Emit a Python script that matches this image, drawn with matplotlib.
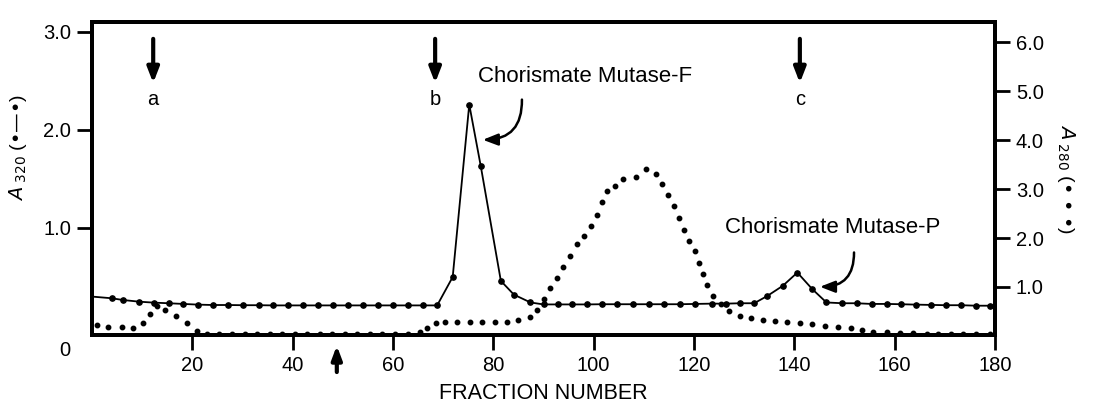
import matplotlib.pyplot as plt
import numpy as np

plt.rcParams["font.family"] = ["Liberation Sans", "DejaVu Sans"]

# A320 (solid line with dots), left axis
a320_frac = [0, 3.9, 6.2, 9.4, 12.4, 15.3, 18.2, 21.1, 24.1, 27.1, 30.1, 33.3, 36.1,
             39.1, 42.1, 45.1, 48.0, 51.0, 54.0, 57.0, 60.0, 63.0, 66.0, 68.8,
             71.9, 75.2, 77.5, 81.5, 84.1, 87.4, 90.0, 92.8, 95.6, 98.7, 101.6,
             104.6, 107.8, 111.0, 114.0, 117.2, 120.2, 123.5, 126.4, 129.2, 132.0,
             134.6, 137.7, 140.6, 143.6, 146.4, 149.6, 152.4, 155.4, 158.4, 161.3,
             164.2, 167.2, 170.2, 173.2, 176.3, 179.0]
a320_vals = [0.30, 0.283, 0.265, 0.248, 0.238, 0.232, 0.225, 0.218, 0.214, 0.214, 0.212,
             0.212, 0.21, 0.21, 0.21, 0.21, 0.21, 0.21, 0.21, 0.21, 0.21, 0.21, 0.21, 0.21,
             0.50, 2.26, 1.63, 0.46, 0.32, 0.24, 0.22, 0.22, 0.22, 0.22, 0.222,
             0.222, 0.222, 0.222, 0.222, 0.222, 0.225, 0.228, 0.228, 0.232, 0.232,
             0.306, 0.41, 0.545, 0.375, 0.24, 0.232, 0.232, 0.225, 0.225, 0.222,
             0.218, 0.215, 0.212, 0.212, 0.207, 0.207]

# A280 (dots only), right axis
a280_frac = [1.0, 3.2, 5.9, 8.2, 10.2, 11.6, 12.9, 14.6, 16.7, 18.9, 21.0, 22.9,
             25.4, 27.9, 30.4, 32.9, 35.4, 37.9, 40.4, 42.9, 45.4, 47.9, 50.4, 52.9,
             55.4, 57.9, 60.4, 62.9, 65.4, 66.7, 68.6,
             70.4, 72.8, 75.3, 77.8, 80.3, 82.8, 85.0, 87.3, 88.8, 90.0, 91.3, 92.7,
             93.9, 95.3, 96.6, 98.1, 99.4, 100.6, 101.7, 102.7, 104.3, 105.9, 108.4,
             110.4, 112.5, 113.6, 114.9, 116.0, 117.0, 118.0, 119.1, 120.1, 120.9,
             121.8, 122.6, 123.8, 125.3, 126.9, 129.2, 131.3, 133.7, 136.1, 138.6,
             141.1, 143.6, 146.2, 148.8, 151.2, 153.4, 155.7, 158.4, 161.0, 163.7,
             166.4, 168.7, 171.3, 173.7, 176.3, 179.0]
a280_vals = [0.22, 0.19, 0.18, 0.16, 0.27, 0.45, 0.61, 0.53, 0.41, 0.26, 0.11, 0.04,
             0.04, 0.04, 0.04, 0.04, 0.04, 0.04, 0.04, 0.04, 0.04, 0.04, 0.04, 0.04,
             0.04, 0.04, 0.04, 0.04, 0.09, 0.16, 0.27,
             0.29, 0.29, 0.29, 0.29, 0.29, 0.29, 0.33, 0.39, 0.53, 0.75, 0.97, 1.19,
             1.41, 1.64, 1.87, 2.05, 2.25, 2.48, 2.74, 2.96, 3.07, 3.20, 3.24,
             3.40, 3.31, 3.10, 2.87, 2.65, 2.41, 2.16, 1.94, 1.73, 1.49,
             1.26, 1.04, 0.82, 0.66, 0.51, 0.41, 0.36, 0.33, 0.31, 0.29,
             0.27, 0.24, 0.20, 0.19, 0.16, 0.12, 0.08, 0.08, 0.07, 0.06,
             0.05, 0.05, 0.05, 0.05, 0.05, 0.05]

markers_abc = [("a", 12.2), ("b", 68.4), ("c", 141.1)]

fig = plt.figure(figsize=(10.94, 4.03), dpi=100)
ax = fig.add_axes([92 / 1094, 68 / 403, 903 / 1094, 313 / 403])
ax2 = ax.twinx()

ax.plot(a320_frac, a320_vals, color="black", lw=1.3, marker="o", ms=3.8,
        markevery=list(range(1, len(a320_frac))), zorder=3)
ax2.plot(a280_frac, a280_vals, linestyle="none", color="black", marker="o", ms=3.2)

ax.set_xlim(0, 180)
ax.set_ylim(-0.092, 3.102)
ax2.set_ylim(0.02, 6.41)

ax.set_xticks([20, 40, 60, 80, 100, 120, 140, 160, 180])
ax.set_yticks([1, 2, 3])
ax.set_yticklabels(["1.0", "2.0", "3.0"])
ax2.set_yticks([1, 2, 3, 4, 5, 6])
ax2.set_yticklabels(["1.0", "2.0", "3.0", "4.0", "5.0", "6.0"])

for a in (ax, ax2):
    for s in a.spines.values():
        s.set_linewidth(2.8)
    a.tick_params(width=2, length=11, labelsize=14.5, direction="out", pad=4)

ax.set_xlabel("FRACTION NUMBER", fontsize=15.5, labelpad=6)
ax.set_ylabel(r"$A_{\ 320}$ (•—•)", fontsize=14)
ax.yaxis.set_label_coords(-0.07, 0.6)
ax2.set_ylabel(r"$A_{\ 280}$ (• • •)", fontsize=14, rotation=270, labelpad=24)
fig.text(65 / 1094, 1 - 350 / 403, "0", fontsize=14.5, ha="center", va="center")

# fraction markers a, b, c
for lab, xf in markers_abc:
    ax.annotate("", xy=(xf, 2.48), xytext=(xf, 2.93),
                arrowprops=dict(arrowstyle="-|>,head_width=0.35,head_length=0.9",
                                lw=3, color="black", shrinkA=0, shrinkB=0))
    ax.text(xf, 2.31, lab, fontsize=14.5, ha="center", va="center")

# upward arrow below axis
ax.annotate("", xy=(48.8, -0.2), xytext=(48.8, -0.47), annotation_clip=False,
            arrowprops=dict(arrowstyle="-|>,head_width=0.3,head_length=0.8",
                            lw=3, color="black", shrinkA=0, shrinkB=0))

ax.text(77.0, 2.55, "Chorismate Mutase-F", fontsize=16, ha="left", va="center")
ax.annotate("", xy=(77.9, 1.90), xytext=(85.7, 2.31),
            arrowprops=dict(arrowstyle="-|>,head_width=0.35,head_length=0.9",
                            lw=1.8, color="black", connectionstyle="arc3,rad=-0.5",
                            shrinkA=0, shrinkB=0))

ax.text(126.2, 1.0, "Chorismate Mutase-P", fontsize=16, ha="left", va="center")
ax.annotate("", xy=(145.1, 0.40), xytext=(151.9, 0.75),
            arrowprops=dict(arrowstyle="-|>,head_width=0.35,head_length=0.9",
                            lw=1.8, color="black", connectionstyle="arc3,rad=-0.5",
                            shrinkA=0, shrinkB=0))

fig.savefig("out.png", dpi=100)
